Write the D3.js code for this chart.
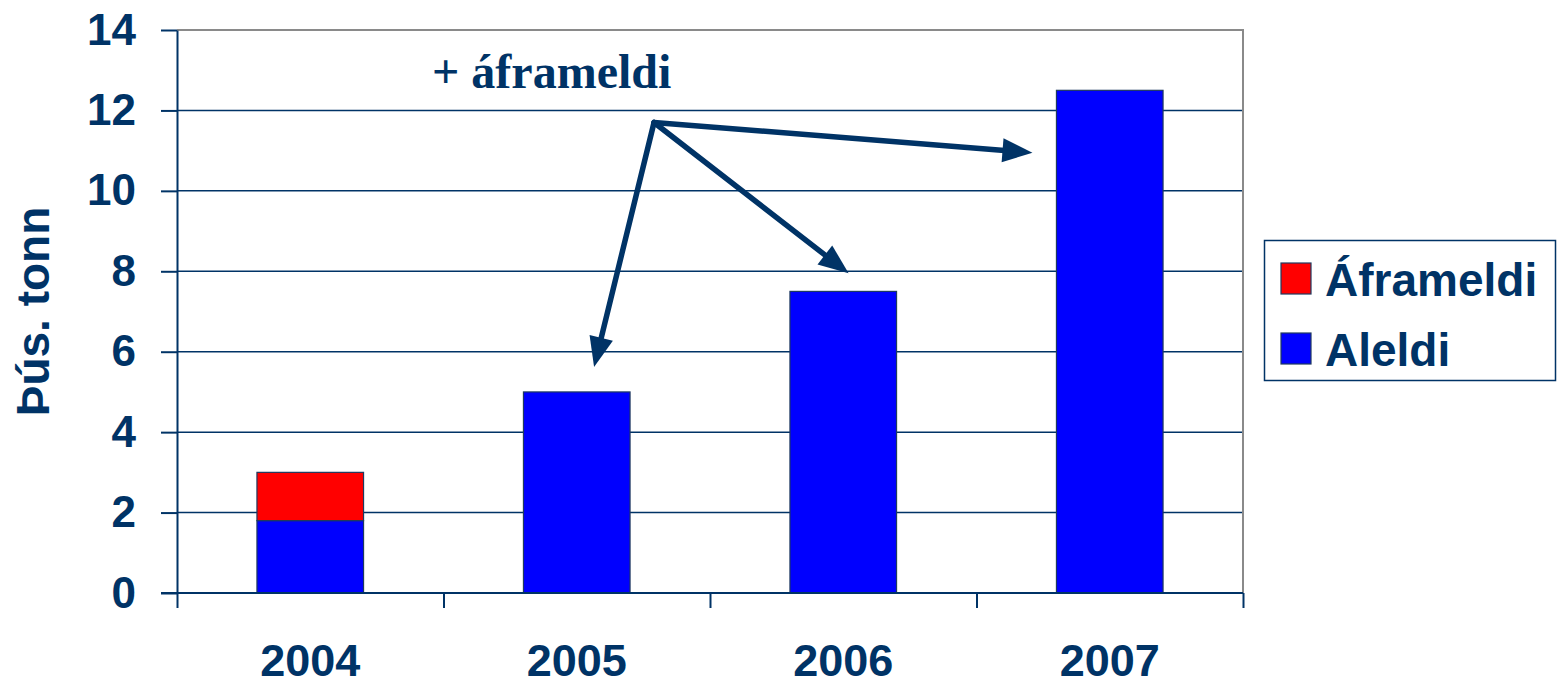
<!DOCTYPE html>
<html><head><meta charset="utf-8">
<script src="https://cdn.jsdelivr.net/npm/d3@7"></script>
<style>body{margin:0;background:#fff}svg{display:block}</style>
</head><body>
<svg id="c" width="1557" height="686"></svg>
<script>
const categories = ["2004","2005","2006","2007"];
const aleldi = [1.8, 5.0, 7.5, 12.5];
const aframeldi = [1.2, 0, 0, 0];
const yTicks = [0,2,4,6,8,10,12,14];
const seriesNames = ["Áframeldi","Aleldi"];
const seriesColors = ["#ff0000","#0000ff"];
const yTitle = "Þús. tonn";
const annotation = "+ áframeldi";

const navy = "#003366";
const svg = d3.select("#c");
const L = 177, R = 1243, T = 30, B = 593;
const x = d3.scaleBand().domain(categories).range([L, R]);
const y = d3.scaleLinear().domain([0, 14]).range([B, T]);
const bw = x.bandwidth() * 0.4;

// gridlines
svg.append("g").selectAll("line").data(yTicks.filter(d => d > 0 && d < 14)).join("line")
  .attr("x1", L).attr("x2", R).attr("y1", d => y(d)).attr("y2", d => y(d))
  .attr("stroke", navy).attr("stroke-width", 1.5);
// top and right border (gray)
svg.append("path").attr("d", `M${L},${y(14)}H${R}V${B}`).attr("fill", "none")
  .attr("stroke", "#8a8a8a").attr("stroke-width", 2);

// bars
const stack = categories.map((c, i) => ({c, a: aleldi[i], f: aframeldi[i]}));
svg.append("g").selectAll("rect").data(stack).join("rect")
  .attr("x", d => x(d.c) + x.bandwidth()/2 - bw/2).attr("width", bw)
  .attr("y", d => y(d.a)).attr("height", d => y(0) - y(d.a))
  .attr("fill", seriesColors[1]).attr("stroke", "#1f3a5f").attr("stroke-width", 1.2);
svg.append("g").selectAll("rect").data(stack.filter(d => d.f > 0)).join("rect")
  .attr("x", d => x(d.c) + x.bandwidth()/2 - bw/2).attr("width", bw)
  .attr("y", d => y(d.a + d.f)).attr("height", d => y(d.a) - y(d.a + d.f))
  .attr("fill", seriesColors[0]).attr("stroke", "#1f3a5f").attr("stroke-width", 1.2);

// y axis
const yAxis = d3.axisLeft(y).tickValues(yTicks).tickSize(16).tickPadding(25).tickSizeOuter(0);
const ga = svg.append("g").attr("transform", `translate(${L},0)`).call(yAxis);
ga.selectAll("line, path").attr("stroke", navy).attr("stroke-width", 2);
ga.selectAll("text").attr("fill", navy).style("font", "bold 44px Arial, 'Liberation Sans', sans-serif");

// x axis
const xs = d3.scalePoint().domain(d3.range(categories.length + 1)).range([L, R]);
const xa = svg.append("g").attr("transform", `translate(0,${B})`)
  .call(d3.axisBottom(xs).tickSize(15).tickFormat(""));
xa.select("path").remove();
xa.append("line").attr("x1", L - 16).attr("x2", R).attr("stroke", navy).attr("stroke-width", 2);
xa.selectAll("line").attr("stroke", navy).attr("stroke-width", 2);
svg.append("g").selectAll("text").data(categories).join("text")
  .attr("x", d => x(d) + x.bandwidth()/2).attr("y", 676)
  .attr("text-anchor", "middle").attr("fill", navy)
  .style("font", "bold 45px Arial, 'Liberation Sans', sans-serif").text(d => d);

// y title
svg.append("text").attr("transform", `translate(49,${(203+420)/2}) rotate(-90)`)
  .attr("text-anchor", "middle").attr("fill", navy)
  .style("font", "bold 46px Arial, 'Liberation Sans', sans-serif").text(yTitle);

// annotation
svg.append("text").attr("x", 432).attr("y", 88).attr("fill", navy)
  .style("font", "bold 48px 'Times New Roman', 'Liberation Serif', serif").text(annotation);

// arrows (positions in data coordinates)
const origin = [x("2005") + x.bandwidth()*0.79, y(11.7)];
const tips = [
  [x("2005") + x.bandwidth()*0.565, y(5.62)],
  [x("2006") + x.bandwidth()*0.52, y(7.95)],
  [x("2007") + x.bandwidth()*0.21, y(10.95)]
];
const headLen = 30, headHalf = 12;
const ag = svg.append("g");
tips.forEach(t => {
  const dx = t[0] - origin[0], dy = t[1] - origin[1];
  const len = Math.hypot(dx, dy), ux = dx/len, uy = dy/len;
  const bx = t[0] - ux*headLen, by = t[1] - uy*headLen;
  ag.append("line").attr("x1", origin[0]).attr("y1", origin[1])
    .attr("x2", bx + ux*2).attr("y2", by + uy*2)
    .attr("stroke", navy).attr("stroke-width", 5.5).attr("stroke-linecap", "round");
  ag.append("path").attr("d",
    `M${t[0]},${t[1]}L${bx - uy*headHalf},${by + ux*headHalf}L${bx + uy*headHalf},${by - ux*headHalf}Z`)
    .attr("fill", navy);
});

// legend
const lg = svg.append("g");
lg.append("rect").attr("x", 1264.5).attr("y", 240.5).attr("width", 291).attr("height", 140)
  .attr("fill", "#fff").attr("stroke", navy).attr("stroke-width", 1.5);
seriesNames.forEach((n, i) => {
  const yy = 263 + i * 70;
  lg.append("rect").attr("x", 1281).attr("y", yy).attr("width", 30).attr("height", 31)
    .attr("fill", seriesColors[i]).attr("stroke", "#1f3a5f").attr("stroke-width", 1.2);
  lg.append("text").attr("x", 1325).attr("y", yy + 33).attr("fill", navy)
    .style("font", "bold 46px Arial, 'Liberation Sans', sans-serif").text(n);
});
</script>
</body></html>
